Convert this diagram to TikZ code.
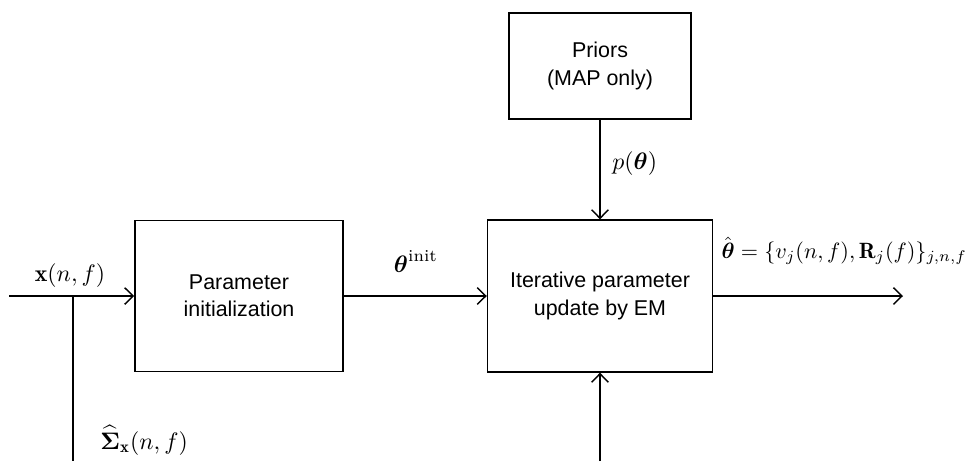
\documentclass[tikz,border=0pt]{standalone}
\usepackage{amsmath}
\usepackage{amssymb}
\usepackage{fontspec}
\setsansfont{Liberation Sans}
\usepackage{tikz}
\usetikzlibrary{positioning,arrows.meta}

\tikzset{
  block/.style={draw, line width=0.6pt, align=center, font=\sffamily\fontsize{9}{11.5}\selectfont, inner sep=0pt},
  sig/.style={line width=0.6pt},
  >={Straight Barb[length=3.6pt,width=7pt]},
}

\begin{document}
\begin{tikzpicture}[x=0.42pt, y=-0.42pt]
\useasboundingbox (0,0) rectangle (973,461);
% blocks
\node[block, minimum width=87.4pt, minimum height=63.4pt] (init) at (239,296) {Parameter\\initialization};
\node[block, minimum width=94.5pt, minimum height=63.8pt] (em) at (600,296) {Iterative parameter\\update by EM};
\node[block, minimum width=76.4pt, minimum height=44.5pt] (priors) at (600,66) {Priors\\(MAP only)};
% free ends
\coordinate (in) at (9,296);
\coordinate (split) at (73,296);
\coordinate (cov) at (73,461);
\coordinate (below) at (600,461);
\coordinate (out) at (903,296);
% signals
\draw[sig, ->] (in) -- (init);
\draw[sig] (split) -- (cov);
\draw[sig, ->] (init) -- (em);
\draw[sig, ->] (priors) -- (em);
\draw[sig, ->] (below) -- (em);
\draw[sig, ->] (em) -- (out);
% labels
\node[anchor=base] (xlab) at (70,281) {$\mathbf{x}(n,f)$};
\node[anchor=base west] (siglab) at (92,449) {$\widehat{\boldsymbol{\Sigma}}_{\mathbf{x}}(n,f)$};
\node[anchor=base] (initlab) at (416,272) {$\boldsymbol{\theta}^{\mathrm{init}}$};
\node[anchor=base west] (plab) at (604,169) {$p(\boldsymbol{\theta})$};
\node[anchor=base west, scale=0.93, inner sep=1pt] (outlab) at (719,258) {$\hat{\boldsymbol{\theta}}=\{v_j(n,f),\mathbf{R}_j(f)\}_{j,n,f}$};
\end{tikzpicture}
\end{document}
